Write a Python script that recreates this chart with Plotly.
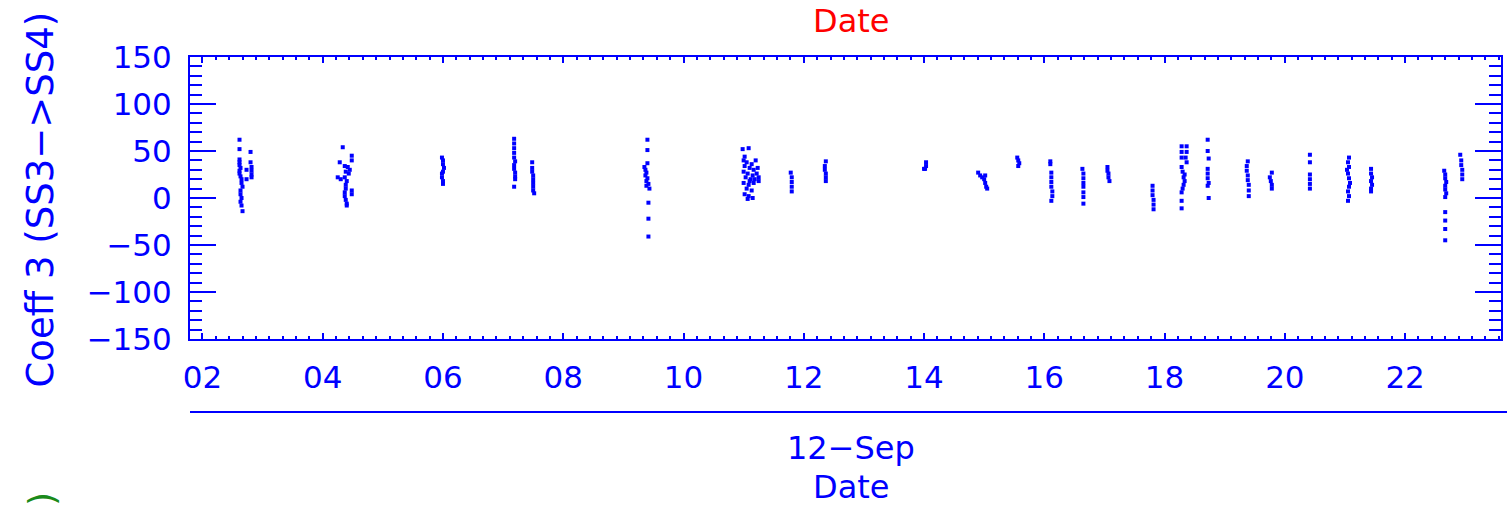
import plotly.graph_objects as go

day = "2012-09-12"

# observation times (HH:MM on 12-Sep) and coefficient values, cluster by cluster
obs_time = [
    "02:37", "02:37", "02:37", "02:37", "02:37", "02:38", "02:37", "02:37", "02:38", "02:39", "02:39", "02:40", "02:38", "02:38", "02:39", "02:38", "02:39", "02:40", "02:48", "02:48", "02:49", "02:49", "02:49", "02:49", "02:44", "02:44",
    "04:20", "04:29", "04:29", "04:17", "04:22", "04:25", "04:27", "04:23", "04:26", "04:15", "04:18", "04:22", "04:24", "04:23", "04:23", "04:22", "04:22", "04:23", "04:24", "04:24", "04:29", "04:29",
    "05:59", "06:00", "06:00", "06:01", "06:00", "05:59", "05:59", "06:00", "06:00",
    "07:11", "07:11", "07:11", "07:11", "07:11", "07:12", "07:11", "07:11", "07:12", "07:12", "07:12", "07:11",
    "07:29", "07:29", "07:29", "07:30", "07:30", "07:30", "07:30", "07:30", "07:31",
    "09:24", "09:24", "09:24", "09:21", "09:22", "09:23", "09:22", "09:24", "09:23", "09:25", "09:23", "09:26", "09:25", "09:25", "09:25",
    "10:59", "11:05", "11:01", "11:00", "11:03", "11:08", "11:12", "11:01", "11:06", "11:10", "11:14", "11:00", "11:04", "11:09", "11:13", "11:02", "11:07", "11:11", "11:15", "11:00", "11:05", "11:10", "11:03", "11:08", "11:01", "11:05", "11:09", "11:04", "11:15", "11:06",
    "11:47", "11:48", "11:48", "11:48", "11:48",
    "12:22", "12:21", "12:21", "12:22", "12:22", "12:22",
    "14:02", "14:02", "14:00", "14:01",
    "14:54", "14:56", "14:58", "15:00", "15:01", "15:01", "15:02", "15:03",
    "15:33", "15:34", "15:35", "15:34",
    "16:06", "16:06", "16:07", "16:07", "16:07", "16:07", "16:08", "16:08", "16:07",
    "16:38", "16:39", "16:39", "16:39", "16:39", "16:39", "16:39", "16:39",
    "17:03", "17:03", "17:04", "17:04", "17:05",
    "17:48", "17:48", "17:48", "17:49", "17:49", "17:49",
    "18:17", "18:22", "18:17", "18:22", "18:17", "18:21", "18:22", "18:17", "18:18", "18:20", "18:19", "18:20", "18:19", "18:18", "18:17", "18:17", "18:17",
    "18:43", "18:43", "18:44", "18:43", "18:43", "18:43", "18:44", "18:43", "18:44",
    "19:23", "19:22", "19:22", "19:23", "19:23", "19:24", "19:24", "19:24",
    "19:47", "19:45", "19:46", "19:47", "19:47",
    "20:25", "20:25", "20:25", "20:25", "20:25", "20:25",
    "21:04", "21:03", "21:04", "21:02", "21:03", "21:04", "21:05", "21:04", "21:03", "21:04", "21:03",
    "21:26", "21:26", "21:27", "21:26", "21:27", "21:26", "21:26",
    "22:39", "22:40", "22:40", "22:41", "22:40", "22:40", "22:41", "22:40", "22:40", "22:40", "22:40", "22:40",
    "22:55", "22:56", "22:56", "22:57", "22:57", "22:57",
]
coeff3 = [
    62, 52, 41, 38, 35, 32, 29, 26, 23, 20, 16, 12, 8, 4, 0, -4, -8, -14, 49, 38, 33, 29, 25, 22, 30, 20,
    54, 45, 40, 38, 34, 33, 30, 28, 26, 22, 20, 22, 18, 14, 10, 6, 2, -2, -6, -8, 8, 4,
    43, 40, 36, 32, 28, 26, 22, 18, 15,
    63, 58, 53, 48, 43, 39, 35, 31, 27, 23, 20, 12,
    38, 32, 28, 24, 20, 16, 12, 8, 5,
    62, 51, 37, 33, 30, 27, 24, 21, 18, 15, 13, 10, -5, -22, -41,
    52, 53, 44, 40, 38, 36, 40, 34, 32, 30, 32, 28, 26, 24, 26, 22, 20, 20, 22, 16, 14, 16, 10, 8, 4, 2, 0, -1, 18, 18,
    27, 22, 17, 12, 7,
    39, 34, 30, 26, 22, 18,
    38, 34, 31, 31,
    27, 24, 22, 20, 24, 16, 12, 10,
    43, 40, 37, 34,
    39, 36, 27, 22, 17, 12, 7, 2, -3,
    31, 26, 21, 16, 12, 6, 1, -6,
    33, 29, 26, 22, 18,
    13, 8, 3, -2, -7, -12,
    55, 55, 49, 49, 43, 43, 38, 33, 28, 25, 22, 18, 14, 10, 6, -3, -11,
    62, 50, 42, 31, 26, 21, 16, 13, 0,
    39, 34, 29, 24, 19, 14, 8, 2,
    27, 22, 18, 14, 10,
    46, 38, 25, 20, 15, 10,
    43, 38, 33, 30, 26, 21, 16, 12, 7, 2, -3,
    31, 26, 22, 18, 14, 10, 7,
    29, 25, 21, 17, 13, 9, 5, 1, -15, -24, -33, -45,
    46, 40, 35, 30, 25, 20,
]

x_range = [day + " 01:47:36", day + " 23:35:40"]
y_range = [-150, 150]

blue = "#0000ff"
font = "DejaVu Sans"

fig = go.Figure()
fig.add_trace(go.Scatter(
    x=[day + " " + t for t in obs_time], y=coeff3,
    mode="markers",
    marker=dict(color=blue, size=4, symbol="square", line=dict(width=0)),
    showlegend=False,
))

fig.update_xaxes(
    type="date", range=x_range, tickformat="%H",
    tick0=day + " 00:00", dtick=7200000,
    ticks="inside", ticklen=6, tickwidth=2, tickcolor=blue,
    showline=True, linecolor=blue, linewidth=2, mirror="ticks",
    showgrid=False, zeroline=False,
    tickfont=dict(family=font, size=31, color=blue),
    ticklabelstandoff=10,
    minor=dict(tick0=day + " 02:00", dtick=800000, ticks="inside", ticklen=3,
               tickwidth=2, tickcolor=blue, showgrid=False),
)
fig.update_yaxes(
    range=y_range, dtick=50,
    ticks="inside", ticklen=26, tickwidth=2, tickcolor=blue,
    showline=True, linecolor=blue, linewidth=2, mirror="ticks",
    showgrid=False, zeroline=False,
    tickfont=dict(family=font, size=31, color=blue),
    ticklabelstandoff=10,
    minor=dict(dtick=10, ticks="inside", ticklen=12, tickwidth=2,
               tickcolor=blue, showgrid=False),
)

# second (date) axis line below the plot
fig.add_shape(type="line", xref="paper", yref="paper", x0=0, x1=1.01,
              y0=-0.259, y1=-0.259, line=dict(color=blue, width=2))

def label(text, x, y, color=blue, size=32, angle=0):
    fig.add_annotation(text=text, xref="paper", yref="paper", x=x, y=y,
                       xanchor="center", yanchor="middle", textangle=angle,
                       showarrow=False, font=dict(family=font, size=size, color=color))

label("12\u2212Sep", 0.504, -0.385)
label("Date", 0.504, -0.525)
label("Date", 0.504, 1.128, color="#ff0000")
label("Coeff 3 (SS3\u2212>SS4)", -0.114, 0.493, size=37, angle=-90)
label(")", -0.113, -0.567, color="#1a8a1a", size=35, angle=-90)

fig.update_layout(
    width=1507, height=506, autosize=False,
    margin=dict(l=190, r=4, t=57, b=167),
    paper_bgcolor="white", plot_bgcolor="white",
)

# drop the browser's default 8px body margin so the figure fills the window
fig.write_html("out.html", config={"displayModeBar": False},
               post_script="document.body.style.margin='0';")
